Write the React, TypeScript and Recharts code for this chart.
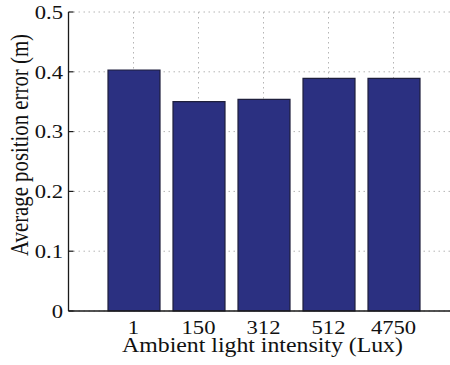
import React from 'react';
import { BarChart, Bar, XAxis, YAxis, CartesianGrid, Label } from 'recharts';

const categories = ['1', '150', '312', '512', '4750'];
const avgErrors = [0.403, 0.35, 0.354, 0.389, 0.389];
const yTicks = [0, 0.1, 0.2, 0.3, 0.4, 0.5];
const yTickLabels = ['0', '0.1', '0.2', '0.3', '0.4', '0.5'];
const xTitle = 'Ambient light intensity (Lux)';
const yTitle = 'Average position error (m)';

const data = categories.map((c, i) => ({ cat: c, err: avgErrors[i] }));

const FONT = '"Liberation Serif", "Times New Roman", serif';
const SX = 1.19;
const TXT = '#111';
const AX = '#1a1a1a';

const XTick = (props: any) => {
  const { x, y, payload } = props;
  return (
    <g transform={`translate(${x},${y})`}>
      <text transform={`scale(${SX},1)`} x={0} y={23} textAnchor="middle" fontFamily={FONT} fontSize={19} fill={TXT}>
        {payload.value}
      </text>
    </g>
  );
};

const TopTick = (props: any) => {
  const { x, y } = props;
  return <line x1={x} x2={x} y1={y} y2={y + 5} stroke={AX} strokeWidth={1.2} />;
};

const YTick = (props: any) => {
  const { x, y, payload } = props;
  const idx = yTicks.indexOf(payload.value);
  const label = idx >= 0 ? yTickLabels[idx] : String(payload.value);
  return (
    <g transform={`translate(${x},${y})`}>
      <line x1={0} x2={5} y1={0} y2={0} stroke={AX} strokeWidth={1.2} />
      <text transform={`scale(${SX},1)`} x={-5.5 / SX} y={0} dy="0.36em" textAnchor="end" fontFamily={FONT} fontSize={19} fill={TXT}>
        {label}
      </text>
    </g>
  );
};

const XTitle = (props: any) => {
  const vb = props.viewBox || { x: 0, y: 0, width: 0 };
  return (
    <g transform={`translate(${vb.x + vb.width / 2 - 1},${vb.y + 41})`}>
      <text transform={`scale(${SX},1)`} x={0} y={0} textAnchor="middle" fontFamily={FONT} fontSize={20} fill={TXT}>
        {xTitle}
      </text>
    </g>
  );
};

const YTitle = (props: any) => {
  const vb = props.viewBox || { x: 0, y: 0, height: 0 };
  const cy = vb.y + vb.height / 2 - 16.5;
  return (
    <g transform={`translate(28,${cy}) scale(${SX},1) rotate(-90)`}>
      <text x={0} y={0} textAnchor="middle" fontFamily={FONT} fontSize={20.8} fill={TXT}>
        {yTitle}
      </text>
    </g>
  );
};

export default function App() {
  return (
    <div style={{ position: 'absolute', left: 0, top: 0, width: 450, height: 365, overflow: 'hidden', background: '#fff' }}>
      <BarChart
        width={460}
        height={365}
        data={data}
        margin={{ top: 12, right: 1.5, bottom: 0, left: 0 }}
        barSize={52}
      >
        <CartesianGrid stroke="#b5b5b5" strokeDasharray="1.5 3.5" strokeWidth={1} />
        <XAxis
          dataKey="cat"
          type="category"
          padding={{ left: 32.5, right: 32.5 }}
          height={54}
          tickSize={0}
          tickMargin={0}
          tickLine={false}
          axisLine={{ stroke: AX, strokeWidth: 1.3 }}
          tick={<XTick />}
          interval={0}
        >
          <Label content={<XTitle />} />
        </XAxis>
        <XAxis
          xAxisId="top"
          dataKey="cat"
          type="category"
          orientation="top"
          padding={{ left: 32.5, right: 32.5 }}
          height={0}
          tickSize={0}
          tickMargin={0}
          tickLine={false}
          axisLine={{ stroke: AX, strokeWidth: 1.3 }}
          tick={<TopTick />}
          interval={0}
        />
        <YAxis
          type="number"
          domain={[0, 0.5]}
          ticks={yTicks}
          width={68.5}
          tickSize={0}
          tickMargin={0}
          tickLine={false}
          axisLine={{ stroke: AX, strokeWidth: 1.3 }}
          tick={<YTick />}
          interval={0}
        >
          <Label content={<YTitle />} />
        </YAxis>
        <Bar dataKey="err" fill="#2b3081" stroke="#1e1f3c" strokeWidth={1.2} isAnimationActive={false} />
      </BarChart>
    </div>
  );
}
